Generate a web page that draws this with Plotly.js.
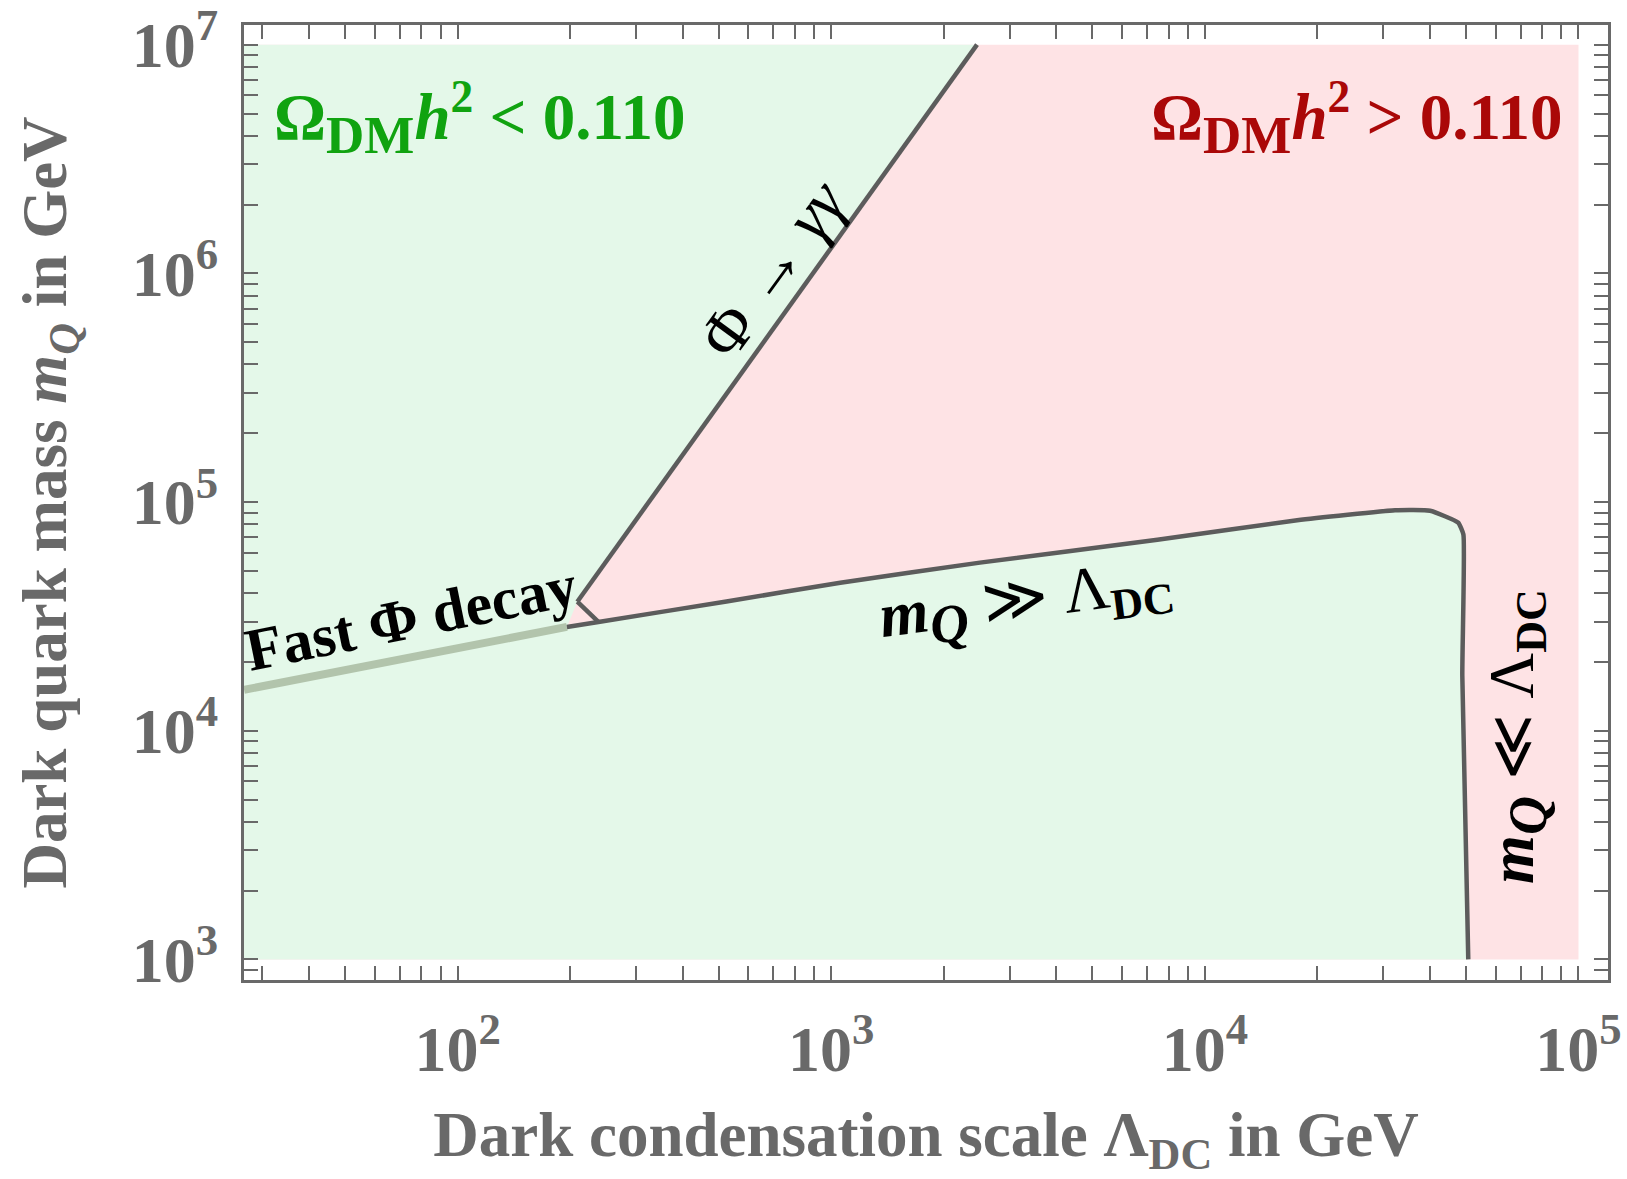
<!DOCTYPE html>
<html>
<head>
<meta charset="utf-8">
<script src="https://cdn.plot.ly/plotly-3.0.1.min.js"></script>
<style>html,body{margin:0;padding:0;background:#fff;}#plot{width:1627px;height:1179px;}</style>
</head>
<body>
<div id="plot"></div>
<script>
// ---- data (GeV) ----
const regionLambda = [26.8, 100000];          // extent of the scanned region in Λ_DC
const regionMQ = [1000, 10000000];            // extent of the scanned region in m_Q

const fastDecayLambda = [26.8, 196];
const fastDecayMQ = [15100, 28440];

const phiGGLambda = [209, 2455];
const phiGGMQ = [36650, 10000000];

const junctionLambda = [209, 238];
const junctionMQ = [36650, 29900];

const heavyLambda = [196, 238, 524, 1057, 2500, 7464, 17660, 32280, 40090, 47640, 49200];
const heavyMQ = [28440, 29900, 36730, 44360, 54330, 68390, 83180, 92040, 91620, 81280, 72110];

const lightLambda = [49200, 48870, 50700];
const lightMQ = [72110, 17420, 1000];

const tickDecadesX = [2, 3, 4, 5];
const tickDecadesY = [3, 4, 5, 6, 7];

// ---- ticks: every 1..9 x 10^n, labels only on decades ----
function makeTicks(lo, hi, decades) {
  const vals = [], text = [];
  for (let e = lo; e <= hi; e++) {
    for (let m = 1; m <= 9; m++) {
      vals.push(m * Math.pow(10, e));
      text.push(m === 1 && decades.includes(e) ? '10<sup>' + e + '</sup>' : '');
    }
  }
  return {vals, text};
}
const xt = makeTicks(1, 5, tickDecadesX);
const yt = makeTicks(2, 7, tickDecadesY);

const PINK = 'rgb(254,227,229)';
const GREEN = 'rgb(228,248,233)';
const LINE = 'rgb(92,92,92)';
const AX = 'rgb(105,105,105)';

// polygons built from the arrays above
const upperGreenX = [regionLambda[0], regionLambda[0], phiGGLambda[1], phiGGLambda[0], fastDecayLambda[1], fastDecayLambda[0]];
const upperGreenY = [fastDecayMQ[0], regionMQ[1], phiGGMQ[1], phiGGMQ[0], fastDecayMQ[1], fastDecayMQ[0]];

const lowerGreenX = [regionLambda[0]].concat(fastDecayLambda, heavyLambda.slice(1), lightLambda.slice(1), [regionLambda[0]]);
const lowerGreenY = [regionMQ[0]].concat(fastDecayMQ, heavyMQ.slice(1), lightMQ.slice(1), [regionMQ[0]]);

const common = {type: 'scatter', mode: 'lines', hoverinfo: 'skip', showlegend: false};

const traces = [
  Object.assign({}, common, {
    x: [regionLambda[0], regionLambda[1], regionLambda[1], regionLambda[0], regionLambda[0]],
    y: [regionMQ[0], regionMQ[0], regionMQ[1], regionMQ[1], regionMQ[0]],
    fill: 'toself', fillcolor: PINK, line: {width: 0}
  }),
  Object.assign({}, common, {x: upperGreenX, y: upperGreenY, fill: 'toself', fillcolor: GREEN, line: {width: 0}}),
  Object.assign({}, common, {x: lowerGreenX, y: lowerGreenY, fill: 'toself', fillcolor: GREEN, line: {width: 0}}),
  Object.assign({}, common, {x: fastDecayLambda, y: fastDecayMQ, line: {color: 'rgb(178,196,172)', width: 8}}),
  Object.assign({}, common, {x: phiGGLambda, y: phiGGMQ, line: {color: LINE, width: 4.5}}),
  Object.assign({}, common, {x: junctionLambda, y: junctionMQ, line: {color: LINE, width: 4.5}}),
  Object.assign({}, common, {x: heavyLambda.concat(lightLambda.slice(1)), y: heavyMQ.concat(lightMQ.slice(1)), line: {color: LINE, width: 4.5, shape: 'spline', smoothing: 0.4}})
];

const F = 'Liberation Serif, Times New Roman, serif';

const axisCommon = {
  type: 'log', showgrid: false, zeroline: false,
  showline: true, linecolor: AX, linewidth: 3, mirror: 'allticks',
  ticks: 'inside', ticklen: 14, tickwidth: 2, tickcolor: AX,
  tickmode: 'array',
  tickfont: {family: F, size: 64, color: AX, weight: 'bold'}
};

const sub = (t, s) => '<sub><span style="font-size:' + s + 'px">' + t + '</span></sub>';

const layout = {
  width: 1627, height: 1179,
  margin: {l: 244, r: 19, t: 25, b: 198.5},
  paper_bgcolor: '#fff', plot_bgcolor: '#fff',
  xaxis: Object.assign({}, axisCommon, {
    range: [1.428, 5.079], tickvals: xt.vals, ticktext: xt.text, ticklabelstandoff: 11,
    title: {text: 'Dark condensation scale Λ<sub>DC</sub> in GeV', standoff: 43,
            font: {family: F, size: 63, color: AX, weight: 'bold'}}
  }),
  yaxis: Object.assign({}, axisCommon, {
    range: [2.91, 7.086], tickvals: yt.vals, ticktext: yt.text, ticklabelstandoff: 10,
    title: {text: 'Dark quark mass <i>m</i><sub><i>Q</i></sub> in GeV', standoff: 45,
            font: {family: F, size: 63, color: AX, weight: 'bold'}}
  }),
  annotations: [
    {xref: 'paper', yref: 'paper', x: 0.0205, y: 0.9036, xanchor: 'left', yanchor: 'middle', showarrow: false,
     text: 'Ω' + sub('DM', 53) + '<i>h</i><sup>2</sup> &lt; 0.110', font: {family: F, size: 65, color: 'rgb(16,163,16)', weight: 'bold'}},
    {xref: 'paper', yref: 'paper', x: 0.9677, y: 0.9036, xanchor: 'right', yanchor: 'middle', showarrow: false,
     text: 'Ω' + sub('DM', 53) + '<i>h</i><sup>2</sup> &gt; 0.110', font: {family: F, size: 65, color: 'rgb(170,8,8)', weight: 'bold'}},
    {xref: 'paper', yref: 'paper', x: 0.3870, y: 0.7455, xanchor: 'center', yanchor: 'middle', showarrow: false, textangle: -54,
     text: 'Φ → <i>γγ</i>', font: {family: F, size: 66, color: '#000'}},
    {xref: 'paper', yref: 'paper', x: 0.1225, y: 0.3790, xanchor: 'center', yanchor: 'middle', showarrow: false, textangle: -11.5,
     text: 'Fast Φ decay', font: {family: F, size: 60, color: '#000', weight: 'bold'}},
    {xref: 'paper', yref: 'paper', x: 0.5740, y: 0.3950, xanchor: 'center', yanchor: 'middle', showarrow: false, textangle: -7.5,
     text: '<i>m</i>' + sub('<i>Q</i>', 54) + ' <span style="font-weight:normal">≫ Λ</span><sub>DC</sub>', font: {family: F, size: 63, color: '#000', weight: 'bold'}},
    {xref: 'paper', yref: 'paper', x: 0.9335, y: 0.2548, xanchor: 'center', yanchor: 'middle', showarrow: false, textangle: -90,
     text: '<i>m</i>' + sub('<i>Q</i>', 54) + ' <span style="font-weight:normal">≪ Λ</span><sub>DC</sub>', font: {family: F, size: 63, color: '#000', weight: 'bold'}}
  ]
};

Plotly.newPlot('plot', traces, layout, {displayModeBar: false, staticPlot: true});
</script>
</body>
</html>
